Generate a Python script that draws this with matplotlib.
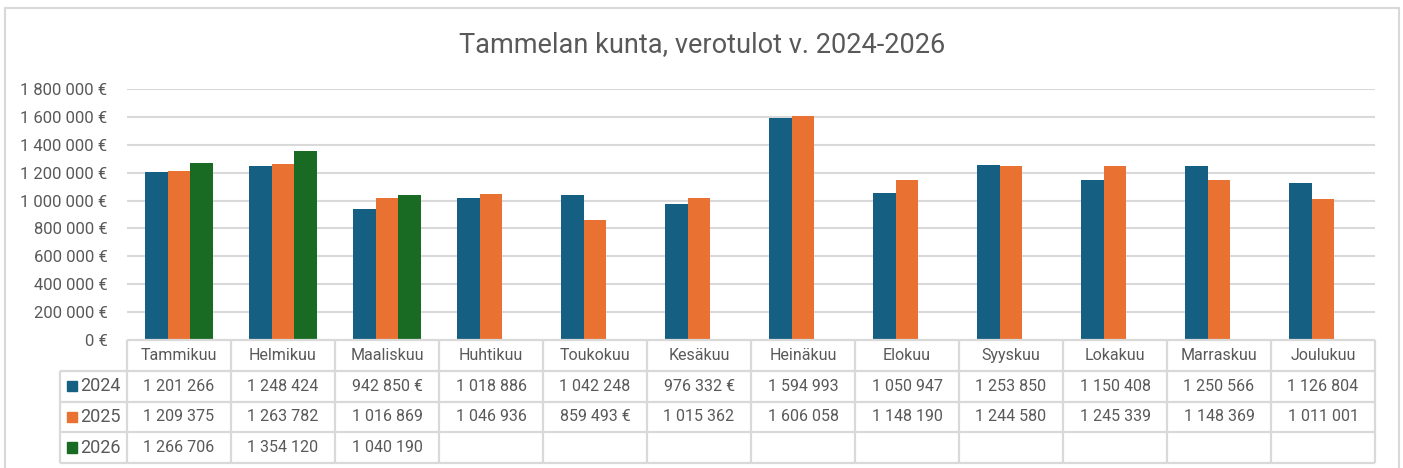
import matplotlib
matplotlib.use("Agg")
import matplotlib.pyplot as plt
import numpy as np
from matplotlib.lines import Line2D
from matplotlib.patches import Rectangle

months = ["Tammikuu", "Helmikuu", "Maaliskuu", "Huhtikuu", "Toukokuu", "Kesäkuu",
          "Heinäkuu", "Elokuu", "Syyskuu", "Lokakuu", "Marraskuu", "Joulukuu"]
series_names = ["2024", "2025", "2026"]
v2024 = [1201266, 1248424, 942850, 1018886, 1042248, 976332,
         1594993, 1050947, 1253850, 1150408, 1250566, 1126804]
v2025 = [1209375, 1263782, 1016869, 1046936, 859493, 1015362,
         1606058, 1148190, 1244580, 1245339, 1148369, 1011001]
v2026 = [1266706, 1354120, 1040190, None, None, None,
         None, None, None, None, None, None]
colors = ["#156082", "#E97132", "#196B24"]
yticks = [0, 200000, 400000, 600000, 800000, 1000000, 1200000, 1400000, 1600000, 1800000]
title = "Tammelan kunta, verotulot v. 2024-2026"

FONT = "Roboto"
TXT = "#595959"
GRID = "#d9d9d9"
plt.rcParams["font.family"] = [FONT, "DejaVu Sans"]

W, H = 1403, 468
fig = plt.figure(figsize=(W / 100, H / 100), dpi=100)


def fx(px):
    return px / W


def fy(py):
    return 1 - py / H


def fmt_num(v):
    return f"{v:,}".replace(",", " ")


# outer border
fig.add_artist(Line2D([fx(5), fx(5)], [fy(8), fy(475)], color=GRID, lw=1.5, transform=fig.transFigure))
fig.add_artist(Line2D([fx(1399), fx(1399)], [fy(8), fy(475)], color=GRID, lw=1.5, transform=fig.transFigure))
fig.add_artist(Line2D([fx(5), fx(1399)], [fy(8), fy(8)], color=GRID, lw=1.5, transform=fig.transFigure))

L, R = 127, 1375
TOP, ZERO = 89, 340
ax = fig.add_axes([fx(L), fy(ZERO), fx(R - L), (ZERO - TOP) / H])
ax.set_xlim(0, 12)
ax.set_ylim(0, 1800000)
for s in ax.spines.values():
    s.set_visible(False)
ax.set_xticks([])
ax.set_yticks(yticks)
ax.set_yticklabels([fmt_num(t) + " €" for t in yticks], color=TXT, fontsize=12)
ax.tick_params(axis="y", length=0, pad=14)
for t in yticks[1:]:
    ax.axhline(t, color=GRID, lw=1.5, zorder=0)

x = np.arange(12) + 0.5
bw = 0.221
for k, (vals, c) in enumerate(zip([v2024, v2025, v2026], colors)):
    arr = np.array([np.nan if v is None else v for v in vals], dtype=float)
    ax.bar(x + (k - 1) * bw, arr, width=bw, color=c, zorder=2)

fig.text(fx(702), fy(45), title, ha="center", va="center", fontsize=19.5, color=TXT)

# data table
TB = 463
tax = fig.add_axes([fx(L), fy(TB), fx(R - L), (TB - ZERO) / H])
tax.set_xlim(0, 12)
tax.set_ylim(4, 0)
tax.axis("off")
lab_left = (60 - L) / ((R - L) / 12)
lk = dict(color=GRID, lw=1.6, clip_on=False, solid_capstyle="butt")
tax.plot([0, 12], [0, 0], **lk)
for r in range(1, 5):
    tax.plot([lab_left, 12], [r, r], **lk)
for c in range(13):
    tax.plot([c, c], [0, 4], **lk)
tax.plot([lab_left, lab_left], [1, 4], **lk)

for i, m in enumerate(months):
    tax.text(i + 0.5, 0.5, m, ha="center", va="center", fontsize=11.5, color=TXT)

for r, (vals, c, name) in enumerate(zip([v2024, v2025, v2026], colors, series_names)):
    yy = r + 1.5
    for i, v in enumerate(vals):
        if v is None:
            continue
        s = fmt_num(v) + (" €" if v < 1000000 else "")
        tax.text(i + 0.5, yy, s, ha="center", va="center", fontsize=11.5, color=TXT)
    tax.add_patch(Rectangle((lab_left + 0.065, yy - 0.17), 0.095, 0.34, color=c, clip_on=False))
    tax.text(lab_left + 0.19, yy, name, ha="left", va="center", fontsize=13, color=TXT)

fig.savefig("out.png", dpi=100)
